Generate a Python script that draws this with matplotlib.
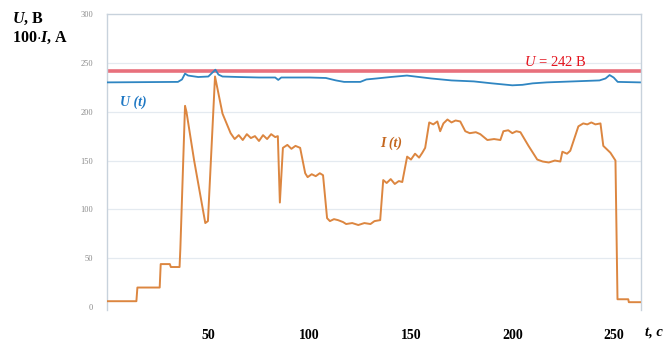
import matplotlib
matplotlib.use("Agg")
import matplotlib.pyplot as plt

plt.rcParams["font.family"] = ["Liberation Serif", "DejaVu Serif"]
plt.rcParams["mathtext.fontset"] = "custom"
plt.rcParams["mathtext.rm"] = "Liberation Serif"
plt.rcParams["mathtext.it"] = "Liberation Serif:italic"
plt.rcParams["mathtext.bf"] = "Liberation Serif:bold"
plt.rcParams["mathtext.bfit"] = "Liberation Serif:bold:italic"

# Voltage U(t), V
u_time = [0, 35, 37, 38.5, 40, 45, 50, 52, 53.5, 55, 57, 65, 75, 83, 84.5, 86,
          100, 108, 113, 117, 125, 128, 133, 140, 148, 156, 160, 170, 181, 190,
          200, 205, 210, 217, 230, 243, 246, 248, 250, 252, 263]
u_volt = [230, 230.5, 233, 239, 237, 235.5, 236, 240, 243, 238, 236, 235.5, 235,
          235, 232.5, 235, 235, 234.5, 232, 230.5, 230.5, 233, 234, 235.5, 237,
          235, 234, 232, 231, 229, 227, 227.5, 229, 230, 231, 232, 234, 237.5,
          235, 230.5, 230]

# Current 100*I(t), A
i_time = [0, 14.5, 15, 26, 26.5, 31, 31.5, 35.8, 36.2, 38.5, 39.2, 43, 48.5,
          49.8, 53.3, 57, 61, 63, 65, 67, 69, 71, 73, 75, 77, 79, 81, 83, 84.3,
          85.3, 86.8, 89, 91, 93, 95.3, 97.8, 99, 101, 103, 105, 106.6, 108.6,
          110, 112, 114, 116.5, 118, 121, 124, 127, 130, 132, 134.8, 136.3, 138,
          140, 142, 144, 145.7, 148.1, 150, 152, 154, 155.6, 157, 159, 161, 163,
          164.4, 166, 168, 170, 172, 174.3, 176.8, 179, 182, 184.2, 187.7, 191,
          194.1, 195.6, 198, 200, 202, 204, 208, 212.3, 215, 218, 221, 223.7,
          224.7, 227, 228.6, 232.6, 235, 237, 239, 241, 243.5, 244.9, 248.4,
          250.9, 251.9, 257.2, 257.5, 263]
i_amp = [6, 6, 20, 20, 44, 44, 41, 41, 60, 206, 200, 150, 86,
         88, 236, 198, 178, 172, 176, 171, 177, 173, 175, 170, 176, 172, 177, 174, 175,
         107, 163, 166, 162, 165, 163, 137, 133, 136, 134, 137, 135, 91,
         88, 90, 89, 87, 85, 86, 84, 86, 85, 88, 89, 130, 127,
         131, 126, 129, 128, 154, 151, 157, 153, 158, 163, 189, 187, 190,
         180, 188, 192, 189, 191, 190, 180, 178, 179, 177, 171, 172,
         171, 180, 181, 178, 180, 179, 165, 151, 149, 148, 150, 149,
         159, 157, 160, 185, 188, 187, 189, 187, 188, 165, 158,
         150, 8, 8, 5, 5]

u_limit = 242
x_ticks = [50, 100, 150, 200, 250]
y_ticks = [0, 50, 100, 150, 200, 250, 300]

fig = plt.figure(figsize=(6.67, 3.42), dpi=100)
ax = fig.add_axes([107 / 667, 1 - 310 / 342, (641 - 107) / 667, (310 - 14) / 342])

ax.set_xlim(0, 263.5)
ax.set_ylim(-3, 300)

for y in y_ticks[1:-1]:
    ax.axhline(y, color="#e4eaf0", lw=0.9, zorder=0)

ax.axhline(u_limit, color="#e8707c", lw=2.6, zorder=2)
ax.plot(u_time, u_volt, color="#2f86c2", lw=1.3, zorder=3)
ax.plot(i_time, i_amp, color="#dc8640", lw=1.4, zorder=4)

for side in ["left", "top", "right"]:
    ax.spines[side].set_color("#c8d2dc")
    ax.spines[side].set_linewidth(1.0)
ax.spines["bottom"].set_visible(False)

ax.set_yticks(y_ticks)
ax.set_yticklabels([str(v) for v in y_ticks], fontsize=6, color="#8a8a8a")
ax.tick_params(axis="y", length=0, pad=10)
ax.set_xticks(x_ticks)
ax.set_xticklabels([str(v) for v in x_ticks], fontsize=10, fontweight="bold")
ax.tick_params(axis="x", length=0, pad=14)

fig.text(12 / 667, 1 - 19 / 342, r"$\mathbfit{U}$, B", fontsize=11.5,
         fontweight="bold", va="center", ha="left")
fig.text(12 / 667, 1 - 38 / 342, r"100$\cdot\mathbfit{I}$, A", fontsize=11.5,
         fontweight="bold", va="center", ha="left")
fig.text(645 / 667, 1 - 332 / 342, "t, c", fontsize=10.5, fontweight="bold",
         style="italic", va="center", ha="left")

ax.text(6.5, 210, "U (t)", color="#1f78c4", fontsize=10, fontweight="bold",
        style="italic", va="center", ha="left")
ax.text(135, 168, "I (t)", color="#c4661e", fontsize=10, fontweight="bold",
        style="italic", va="center", ha="left")
ax.text(206, 251, r"$\mathit{U}$ = 242 В", color="#e3141e", fontsize=10.5,
        va="center", ha="left")

fig.savefig("out.png", dpi=100)
